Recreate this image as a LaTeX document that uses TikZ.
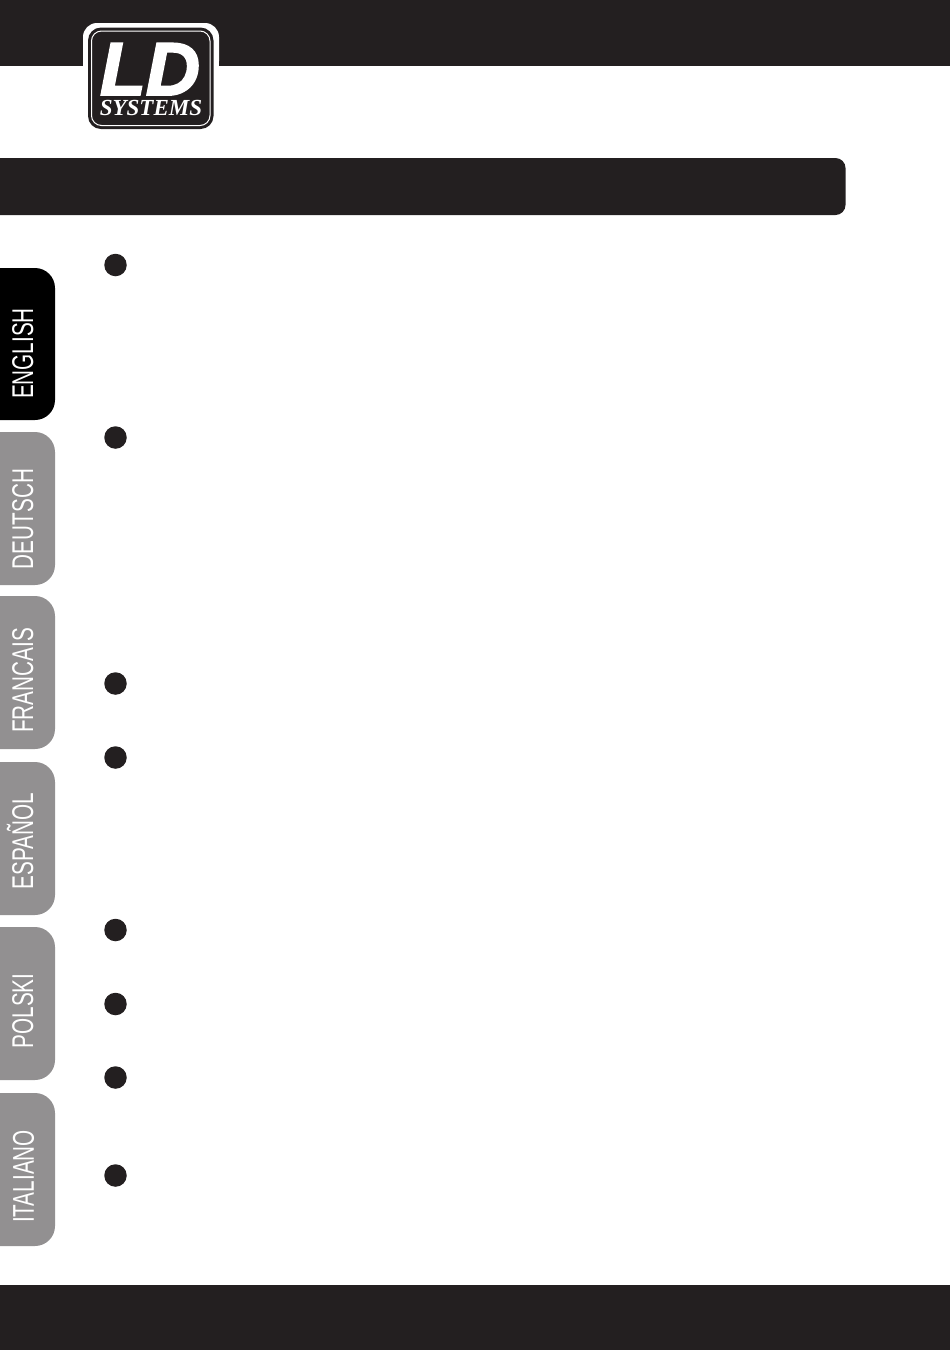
\documentclass[tikz,border=0pt]{standalone}
\usepackage{fontspec}
\setmainfont{Liberation Sans}
\newfontfamily\tabfont[FakeStretch=0.69]{Liberation Sans}
\newfontfamily\logofont[FakeBold=2.5]{Liberation Sans}
\newfontfamily\logoserif{Liberation Serif}
\definecolor{barblack}{HTML}{231F20}
\definecolor{tabgrey}{HTML}{929091}
\tikzset{
    tablabel/.style={rotate=90, inner sep=0, text=white, text height=22pt, text depth=0pt, font=\tabfont\fontsize{30}{30}\selectfont},
    bullet/.style={circle, fill=barblack, minimum size=22.5pt, inner sep=0}
}

\begin{document}
\begin{tikzpicture}[x=1pt, y=-1pt]
            \useasboundingbox (0,0) rectangle (950,1350);
            % bars
            \fill[barblack] (0,0) rectangle (950,66);
            \fill[barblack] (0,1285) rectangle (950,1350);
            \fill[barblack, rounded corners=10pt] (-20,158) rectangle (845.5,215);
            % logo
            \fill[white, rounded corners=14pt] (83,23) rectangle (219,75);
            \fill[white] (83,50) rectangle (219,135);
            \fill[barblack, rounded corners=13pt] (88,27.5) rectangle (213.5,129);
            \draw[white, line width=1pt, rounded corners=10pt] (91.5,31) rectangle (210,125.5);
            \node[inner sep=0, text=white, text height=48pt, text depth=0pt, font=\logofont\bfseries\itshape\fontsize{75}{75}\selectfont] (logoLD) at (150,71) {LD};
            \node[inner sep=0, text=white, text height=14pt, text depth=0pt, font=\logoserif\bfseries\itshape\fontsize{23}{23}\selectfont] (logoSys) at (151,108) {SYSTEMS};
            % language tabs
            \fill[black, rounded corners=20pt] (-30,268) rectangle (55,420);
            \foreach \ya/\yb in {432/585, 596/749, 762/915, 927/1080, 1093/1246}
                \fill[tabgrey, rounded corners=20pt] (-30,\ya) rectangle (55,\yb);
            \node[tablabel] (tabEN) at (22,353.5) {ENGLISH};
            \node[tablabel] (tabDE) at (22,519) {DEUTSCH};
            \node[tablabel] (tabFR) at (22,680.5) {FRANCAIS};
            \node[tablabel] (tabES) at (22,841) {ESPAÑOL};
            \node[tablabel] (tabPL) at (22,1011) {POLSKI};
            \node[tablabel] (tabIT) at (23,1176.5) {ITALIANO};
            % bullets
            \foreach \y [count=\i] in {265, 437.5, 683.5, 757.5, 930, 1004, 1077.5, 1175.5}
                \node[bullet] (dot\i) at (115.5,\y) {};
        \end{tikzpicture}
\end{document}
